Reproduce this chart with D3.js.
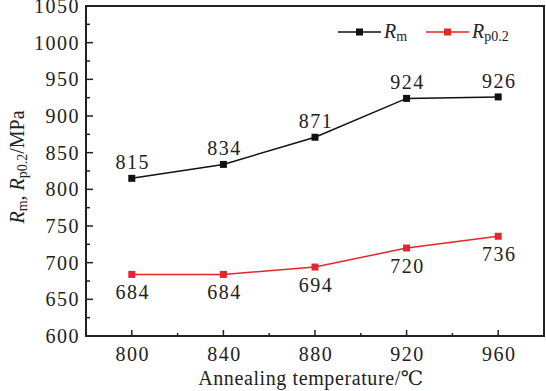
<!DOCTYPE html>
<html>
<head>
<meta charset="utf-8">
<script src="https://cdn.jsdelivr.net/npm/d3@7"></script>
<style>
  body { margin: 0; background: #fff; }
  svg { display: block; font-family: "Liberation Serif", "DejaVu Serif", serif; }
  .num { font-size: 20px; letter-spacing: 1.5px; fill: #222; }
</style>
</head>
<body>
<div id="chart"></div>
<script>
(function() {
  var temps = [800, 840, 880, 920, 960],
      rm = [815, 834, 871, 924, 926],
      rp = [684, 684, 694, 720, 736],
      xTicks = [800, 840, 880, 920, 960],
      yTicks = [600, 650, 700, 750, 800, 850, 900, 950, 1000, 1050];

  var width = 546, height = 391,
      margin = { top: 6, right: 2, bottom: 55, left: 86 };

  var svg = d3.select("#chart").append("svg")
      .attr("width", width)
      .attr("height", height);

  var x = d3.scaleLinear().domain([780, 980]).range([margin.left, width - margin.right]);
  var y = d3.scaleLinear().domain([600, 1050]).range([height - margin.bottom, margin.top]);

  var x0 = x.range()[0], x1 = x.range()[1], y0 = y.range()[0], y1 = y.range()[1];

  // inward ticks, minor + major
  var g = svg.append("g");
  d3.range(780, 981, 20).forEach(function(v) {
    var len = xTicks.includes(v) ? 6 : 3;
    g.append("line").attr("x1", x(v)).attr("x2", x(v)).attr("y1", y0).attr("y2", y0 - len)
      .attr("stroke", "#222").attr("stroke-width", 1.5);
  });
  d3.range(600, 1051, 25).forEach(function(v) {
    var len = yTicks.includes(v) ? 7 : 4;
    g.append("line").attr("x1", x0).attr("x2", x0 + len).attr("y1", y(v)).attr("y2", y(v))
      .attr("stroke", "#222").attr("stroke-width", 1.5);
  });

  svg.append("rect")
      .attr("x", x0).attr("y", y1)
      .attr("width", x1 - x0).attr("height", y0 - y1)
      .attr("fill", "none").attr("stroke", "#222").attr("stroke-width", 2);

  svg.selectAll(".xlab")
    .data(xTicks)
    .join("text")
      .attr("class", "num")
      .attr("x", d => x(d) + 1)
      .attr("y", y0 + 25)
      .attr("text-anchor", "middle")
      .text(d => d);

  svg.selectAll(".ylab")
    .data(yTicks)
    .join("text")
      .attr("class", "num")
      .attr("x", x0 - 6)
      .attr("y", d => y(d) + 7)
      .attr("text-anchor", "end")
      .text(d => d);

  svg.append("text")
      .attr("x", (x0 + x1) / 2 - 4)
      .attr("y", y0 + 49)
      .attr("text-anchor", "middle")
      .attr("font-size", "20px")
      .attr("letter-spacing", "0.6px")
      .attr("fill", "#222")
      .text("Annealing temperature/\u2103");

  var yt = svg.append("text")
      .attr("transform", "translate(24," + 167 + ") rotate(-90)")
      .attr("text-anchor", "middle")
      .attr("font-size", "20px")
      .attr("fill", "#222");
  yt.append("tspan").attr("font-style", "italic").text("R");
  yt.append("tspan").attr("font-size", "14px").attr("dy", 3).text("m");
  yt.append("tspan").attr("dy", -3).text(", ");
  yt.append("tspan").attr("font-style", "italic").text("R");
  yt.append("tspan").attr("font-size", "14px").attr("dy", 3).text("p0.2");
  yt.append("tspan").attr("dy", -3).text("/MPa");

  var line = d3.line().x((d, i) => x(temps[i])).y(d => y(d));

  var series = [
    { values: rm, color: "#111", above: true },
    { values: rp, color: "#e3262b", above: false }
  ];

  series.forEach(function(s) {
    svg.append("path")
        .datum(s.values)
        .attr("d", line)
        .attr("fill", "none")
        .attr("stroke", s.color)
        .attr("stroke-width", 1.5);
    svg.selectAll(null)
      .data(s.values)
      .join("rect")
        .attr("x", (d, i) => x(temps[i]) - 3.5)
        .attr("y", d => y(d) - 3.5)
        .attr("width", 7).attr("height", 7)
        .attr("fill", s.color);
    svg.selectAll(null)
      .data(s.values)
      .join("text")
        .attr("class", "num")
        .attr("x", (d, i) => x(temps[i]) + 1)
        .attr("y", d => s.above ? y(d) - 9 : y(d) + 25)
        .attr("text-anchor", "middle")
        .text(d => d);
  });

  // legend
  var legend = [
    { x: 338, color: "#111", sub: "m" },
    { x: 426, color: "#e3262b", sub: "p0.2" }
  ];
  var ly = 32;
  legend.forEach(function(l) {
    svg.append("line").attr("x1", l.x).attr("x2", l.x + 43).attr("y1", ly).attr("y2", ly)
      .attr("stroke", l.color).attr("stroke-width", 1.5);
    svg.append("rect").attr("x", l.x + 21.5 - 3.5).attr("y", ly - 3.5)
      .attr("width", 7).attr("height", 7).attr("fill", l.color);
    var t = svg.append("text").attr("x", l.x + 46).attr("y", ly + 6)
      .attr("font-size", "20px").attr("fill", "#222");
    t.append("tspan").attr("font-style", "italic").text("R");
    t.append("tspan").attr("font-size", "14px").attr("dy", 3).text(l.sub);
  });
})();
</script>
</body>
</html>
